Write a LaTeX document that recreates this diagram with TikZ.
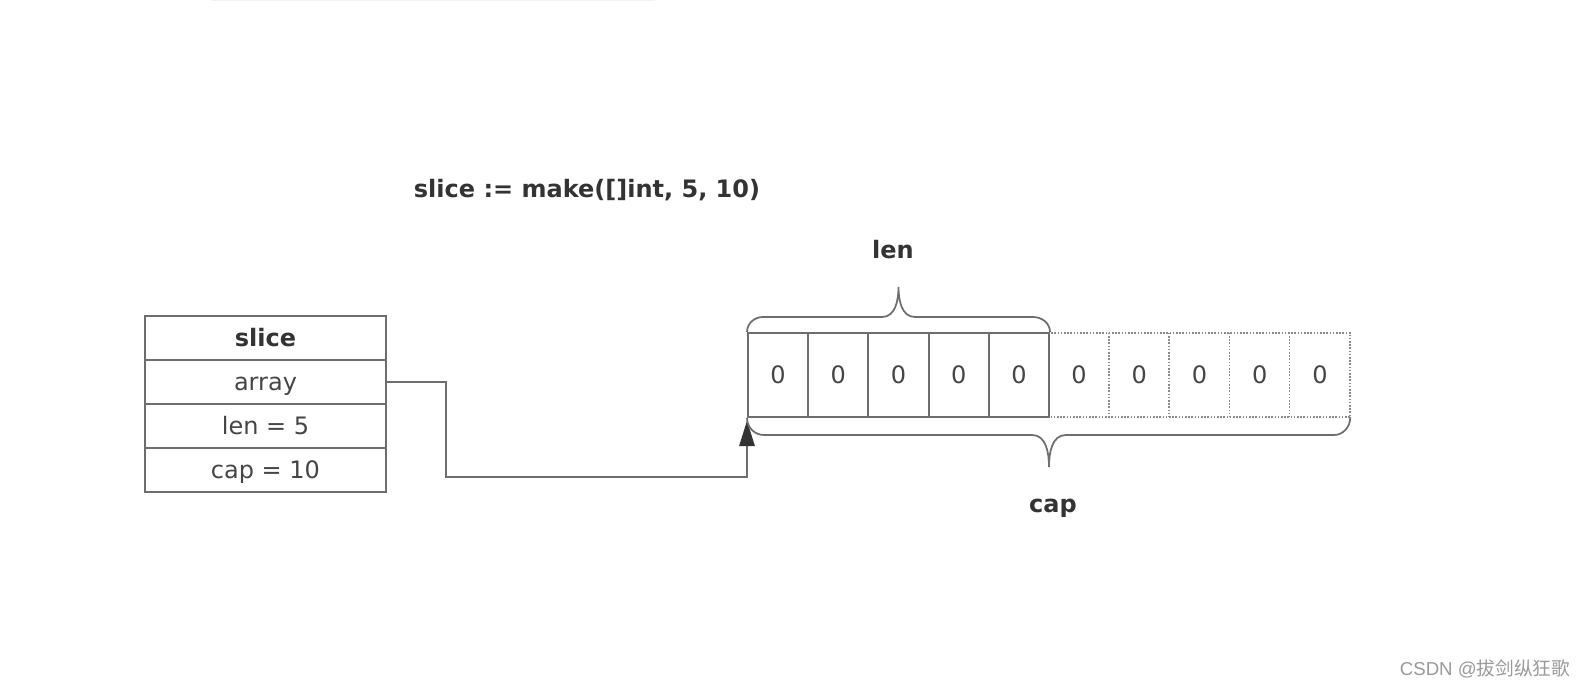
\documentclass[tikz,border=0pt]{standalone}
\usepackage{fontspec}
\setmainfont{DejaVu Sans}
\newfontfamily\cjkfont{Noto Sans CJK SC}
\newfontfamily\wmfont{Liberation Sans}
\usetikzlibrary{arrows.meta}
\definecolor{linegray}{HTML}{6E6E6E}
\definecolor{dotgray}{HTML}{8A8A8A}
\definecolor{txtgray}{HTML}{454545}
\definecolor{boldgray}{HTML}{333333}
\definecolor{wmgray}{HTML}{9A9A9A}
\definecolor{faint}{HTML}{F2F2F2}
\begin{document}
\begin{tikzpicture}[x=0.75pt,y=-0.75pt,
  fieldbox/.style={draw=linegray,line width=1.9pt,minimum width=180.75pt,minimum height=33pt,inner sep=0pt,
    text height=14.5pt,text depth=2.5pt,font=\fontsize{18}{20}\selectfont,text=txtgray},
  solidcell/.style={draw=linegray,line width=1.5pt,minimum width=45.15pt,minimum height=63pt,inner sep=0pt,
    font=\fontsize{18}{20}\selectfont,text=txtgray},
  dotcell/.style={minimum width=45.15pt,minimum height=63pt,inner sep=0pt,
    font=\fontsize{18}{20}\selectfont,text=txtgray},
  dotline/.style={draw=dotgray,line width=1.2pt,dash pattern=on 1.2pt off 1.2pt},
  brace/.style={draw=linegray,line width=1.3pt},
  conn/.style={draw=linegray,line width=1.3pt},
  boldlabel/.style={font=\fontsize{18}{22}\selectfont\bfseries,text=boldgray,inner sep=0pt},
  watermark/.style={font=\fontsize{14}{16}\selectfont,text=wmgray,inner sep=0pt}
]
\useasboundingbox[fill=white] (0,0) rectangle (1586,688);
\draw[faint,line width=1pt] (211,0.5) -- (655,0.5);

% title
\node[boldlabel] (title) at (587,190) {slice := make([]int, 5, 10)};

% slice struct
\node[fieldbox,font=\fontsize{18}{20}\selectfont\bfseries,text=boldgray] (s0) at (265.5,338) {slice};
\node[fieldbox] (s1) at (265.5,382) {array};
\node[fieldbox] (s2) at (265.5,426) {len = 5};
\node[fieldbox] (s3) at (265.5,470) {cap = 10};

% array cells
\foreach \i in {5,...,9} \node[dotcell] (c\i) at ({748+60.2*(\i+0.5)},375) {0};
\draw[dotline] (c5.north west) rectangle (c9.south east);
\foreach \i in {6,...,9} \draw[dotline] (c\i.north west) -- (c\i.south west);
\foreach \i in {0,...,4} \node[solidcell] (c\i) at ({748+60.2*(\i+0.5)},375) {0};

% connector
\coordinate (j1) at (446,477);
\draw[conn,-{Triangle[length=19pt,width=11.5pt,color=boldgray]},shorten >=2pt] (s1.east) -| (j1) -| (c0.south west);

% len brace
\draw[brace] (c0.north west) to[out=90,in=180] (763,317) -- (882,317) to[out=0,in=-90] (898.5,287)
  to[out=-90,in=180] (915,317) -- (1033,317) to[out=0,in=90] (c4.north east);
\node[boldlabel] (lenlbl) at (893,250) {len};

% cap brace
\draw[brace] (c0.south west) to[out=-90,in=180] (764,435) -- (1032,435) to[out=0,in=90] (1049,467)
  to[out=90,in=180] (1066,435) -- (1334,435) to[out=0,in=-90] (c9.south east);
\node[boldlabel] (caplbl) at (1053,508) {cap};

% watermark
\node[watermark] (wm) at (1485,669) {\wmfont CSDN @\cjkfont 拔剑纵狂歌};
\end{tikzpicture}
\end{document}
